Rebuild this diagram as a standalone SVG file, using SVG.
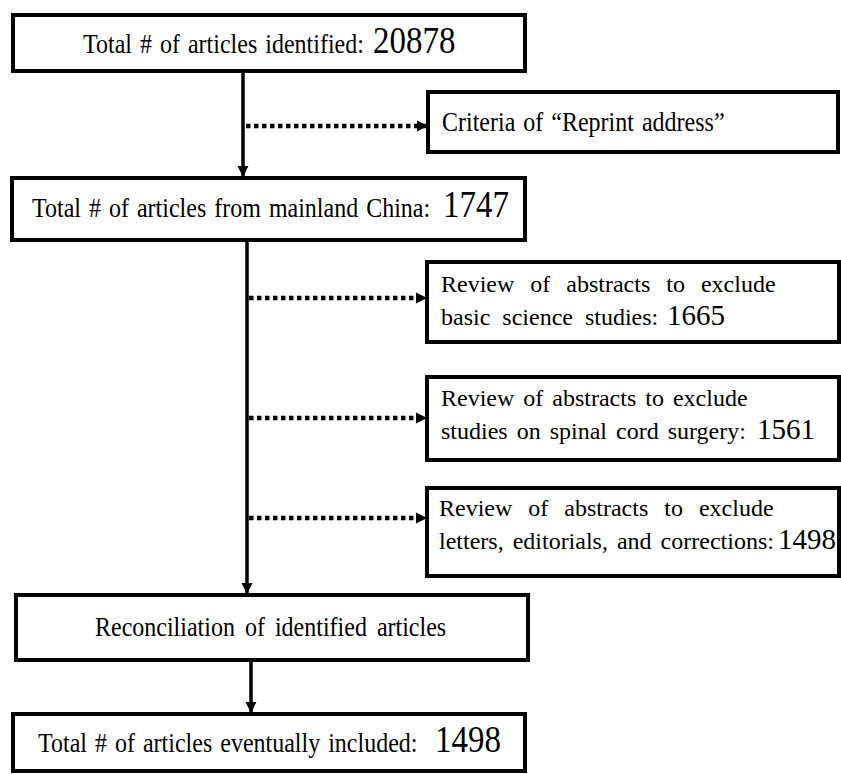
<svg xmlns="http://www.w3.org/2000/svg" width="841" height="774" viewBox="0 0 841 774">
<defs>
<style>
.box{fill:#fff;stroke:#000;stroke-width:4}
.t{font-family:'Liberation Serif','Times New Roman',serif;font-size:24px;fill:#000;word-spacing:2px}
.n{font-size:33px}
.m{font-size:29px}
.solid{stroke:#000;stroke-width:3.5;fill:none}
.dot{stroke:#000;stroke-width:4.5;fill:none;stroke-dasharray:4.5 3.5}
</style>
<marker id="ah" markerUnits="userSpaceOnUse" markerWidth="12" markerHeight="12" refX="11" refY="6" orient="auto">
<path d="M0,0.5 L11,6 L0,11.5 Z" fill="#000"/>
</marker>
</defs>
<rect width="841" height="774" fill="#fff"/>
<g id="connectors">
<line class="solid" x1="243" y1="71" x2="243" y2="177" marker-end="url(#ah)"/>
<line class="dot" x1="246" y1="126" x2="428" y2="126" marker-end="url(#ah)"/>
<line class="solid" x1="247" y1="240" x2="247" y2="594" marker-end="url(#ah)"/>
<line class="dot" x1="249" y1="298" x2="427" y2="298" marker-end="url(#ah)"/>
<line class="dot" x1="249" y1="418" x2="427" y2="418" marker-end="url(#ah)"/>
<line class="dot" x1="249" y1="518" x2="427" y2="518" marker-end="url(#ah)"/>
<line class="solid" x1="251" y1="660" x2="251" y2="713" marker-end="url(#ah)"/>
</g>
<g id="n1">
<rect class="box" x="13" y="15" width="512" height="56"/>
<text class="t" transform="translate(83,53) scale(1,1.15)">Total # of articles identified:<tspan class="n" x="290">20878</tspan></text>
</g>
<g id="n2">
<rect class="box" x="428" y="92" width="410" height="60"/>
<text class="t" transform="translate(442,131) scale(1,1.15)">Criteria of “Reprint address”</text>
</g>
<g id="n3">
<rect class="box" x="12" y="178" width="513" height="62"/>
<text class="t" transform="translate(32,217) scale(1,1.15)">Total # of articles from mainland China:<tspan class="n" x="411">1747</tspan></text>
</g>
<g id="n4">
<rect class="box" x="427" y="262" width="412" height="80"/>
<text class="t" x="441" y="292" style="word-spacing:10px">Review of abstracts to exclude</text>
<text class="t" x="441" y="325" style="word-spacing:6px">basic science studies:<tspan class="m" x="667">1665</tspan></text>
</g>
<g id="n5">
<rect class="box" x="427" y="377" width="412" height="83"/>
<text class="t" x="441" y="406" style="word-spacing:3px">Review of abstracts to exclude</text>
<text class="t" x="441" y="439" style="word-spacing:3px">studies on spinal cord surgery:<tspan class="m" x="757">1561</tspan></text>
</g>
<g id="n6">
<rect class="box" x="427" y="488" width="412" height="88"/>
<text class="t" x="439" y="516" style="word-spacing:10px">Review of abstracts to exclude</text>
<text class="t" x="439" y="549" style="word-spacing:3px">letters, editorials, and corrections:<tspan class="m" x="778">1498</tspan></text>
</g>
<g id="n7">
<rect class="box" x="16" y="595" width="512" height="65"/>
<text class="t" transform="translate(95,636) scale(1,1.15)" style="word-spacing:4px">Reconciliation of identified articles</text>
</g>
<g id="n8">
<rect class="box" x="13" y="714" width="512" height="57"/>
<text class="t" transform="translate(38,752) scale(1,1.15)">Total # of articles eventually included:<tspan class="n" x="397">1498</tspan></text>
</g>
</svg>
